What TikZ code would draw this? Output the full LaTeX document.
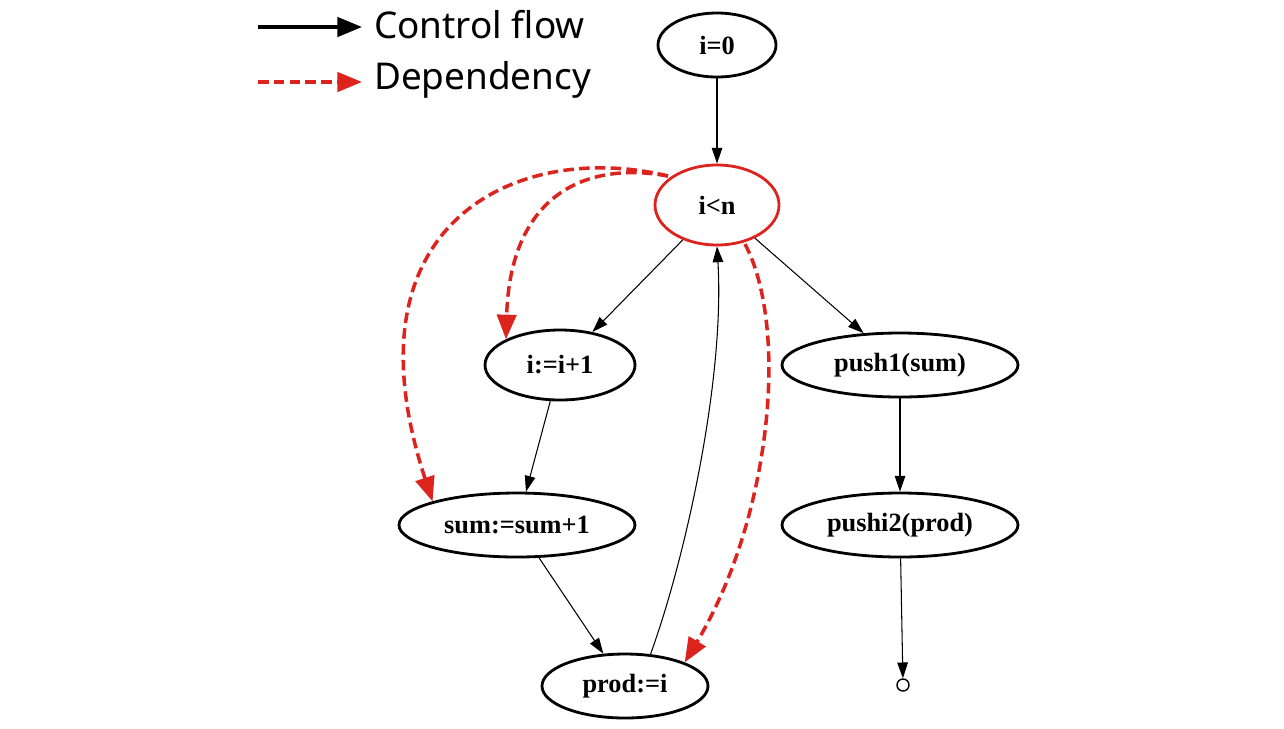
\documentclass[tikz,border=0pt]{standalone}
\usepackage{fontspec}
\setmainfont{Liberation Serif}
\newfontfamily\legfont{Noto Sans}
\usetikzlibrary{arrows.meta,shapes.geometric}
\definecolor{dep}{RGB}{220,35,30}
\begin{document}
\begin{tikzpicture}[x=0.02cm,y=-0.02cm,
  st/.style={ellipse,draw,line width=1.6pt,inner sep=0pt,font=\fontsize{15}{17}\selectfont\bfseries},
  cf/.style={draw,line width=0.6pt,-{Triangle[length=9pt,width=6pt]}},
  dp/.style={draw=dep,line width=2pt,dash pattern=on 6pt off 3pt,-{Triangle[length=14pt,width=11pt]}},
  leg/.style={font=\fontsize{21}{24}\selectfont\legfont,anchor=west}]
\useasboundingbox (0,0) rectangle (1284,728);
\node[st,minimum width=118*0.02cm,minimum height=64*0.02cm] (a) at (717,45) {i=0};
\node[st,draw=dep,minimum width=124*0.02cm,minimum height=80*0.02cm] (b) at (717,205) {i<n};
\node[st,minimum width=150*0.02cm,minimum height=70*0.02cm] (c) at (560,365) {i:=i+1};
\node[st,minimum width=236*0.02cm,minimum height=64*0.02cm] (d) at (900,365) {push1(sum)};
\node[st,minimum width=236*0.02cm,minimum height=64*0.02cm] (e) at (517,525) {sum:=sum+1};
\node[st,minimum width=236*0.02cm,minimum height=64*0.02cm] (f) at (900,525) {pushi2(prod)};
\node[st,minimum width=166*0.02cm,minimum height=64*0.02cm] (g) at (625,686) {prod:=i};
\node[circle,draw,line width=0.8pt,minimum size=12*0.02cm,inner sep=0pt] (h) at (903,685) {};
\path[cf] (a) -- (b);
\path[cf] (b) -- (c);
\path[cf] (b) -- (d);
\path[cf] (c) -- (e);
\path[cf] (e) -- (g);
\path[cf] (d) -- (f);
\path[cf] (f) -- (h);
\path[cf] (g.north) ++(25,3) .. controls (685,560) and (725,380) .. (b.south);
\coordinate (s1) at (668,176);
\coordinate (s2) at (745,244);
\path[dp] (s1) .. controls (580,160) and (510,200) .. (c.north west);
\path[dp] (s1) .. controls (520,140) and (340,220) .. (e.north west);
\path[dp] (s2) .. controls (790,330) and (770,520) .. (g.north east);
\draw[line width=2pt,-{Triangle[length=14pt,width=11pt]}] (258,27) -- (362,27);
\node[leg] (l1) at (368,25) {Control flow};
\draw[dp] (258,82) -- (362,82);
\node[leg] (l2) at (368,80) {Dependency};
\end{tikzpicture}
\end{document}
